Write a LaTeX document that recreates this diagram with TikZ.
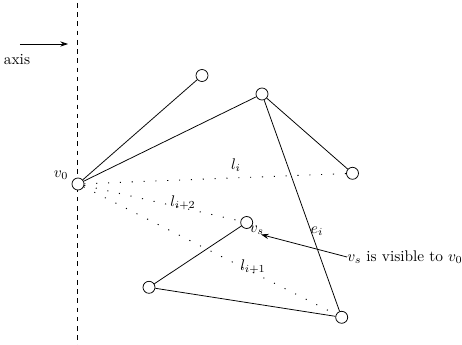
\documentclass[tikz,border=0pt]{standalone}
\usetikzlibrary{arrows.meta}
\begin{document}
\begin{tikzpicture}[x=0.65pt,y=-0.65pt,
  vtx/.style={circle,draw,fill=white,inner sep=0pt,minimum size=7.8pt,line width=0.5pt},
  edge/.style={line width=0.5pt},
  sight/.style={dash pattern=on 0.7pt off 7pt,line width=0.6pt},
  lbl/.style={inner sep=0pt},
  ptr/.style={-{Stealth[length=5pt,width=3.4pt]},line width=0.5pt}]
\useasboundingbox (0,0) rectangle (462,345);
% axis
\coordinate (axtop) at (77,3);
\coordinate (axbot) at (77,345);
\draw[dashed,line width=0.5pt] (axtop) -- (axbot);
\coordinate (arS) at (20,44);
\coordinate (arE) at (68,44);
\draw[ptr] (arS) -- (arE);
\node[lbl] (axis) at (17,60) {axis};
% vertices
\node[vtx] (v0) at (78,184) {};
\node[vtx] (a) at (202,75.5) {};
\node[vtx] (b) at (262,94) {};
\node[vtx] (c) at (352.5,173.3) {};
\node[vtx] (vs) at (246.7,222.5) {};
\node[vtx] (d) at (149,287.3) {};
\node[vtx] (e) at (341.7,317.3) {};
% edges
\draw[edge] (v0) -- (a);
\draw[edge] (v0) -- (b);
\draw[edge] (b) -- (c);
\draw[edge] (b) -- (e);
\draw[edge] (vs) -- (d);
\draw[edge] (d) -- (e);
% lines of sight
\draw[sight] (v0) -- (c);
\draw[sight] (v0) -- (vs);
\draw[sight] (v0) -- (e);
% labels
\node[lbl] (lv0) at (61,175) {$v_0$};
\node[lbl] (li) at (236,165) {$l_i$};
\node[lbl] (li2) at (183,203) {$l_{i+2}$};
\node[lbl] (lvs) at (257,230) {$v_s$};
\node[lbl] (li1) at (253,267) {$l_{i+1}$};
\node[lbl] (lei) at (317,231) {$e_i$};
\node[lbl,anchor=west] (vis) at (347,257) {$v_s$ is visible to $v_0$};
\coordinate (tip) at (261,234.5);
\draw[ptr] (vis.west) -- (tip);
\end{tikzpicture}
\end{document}
